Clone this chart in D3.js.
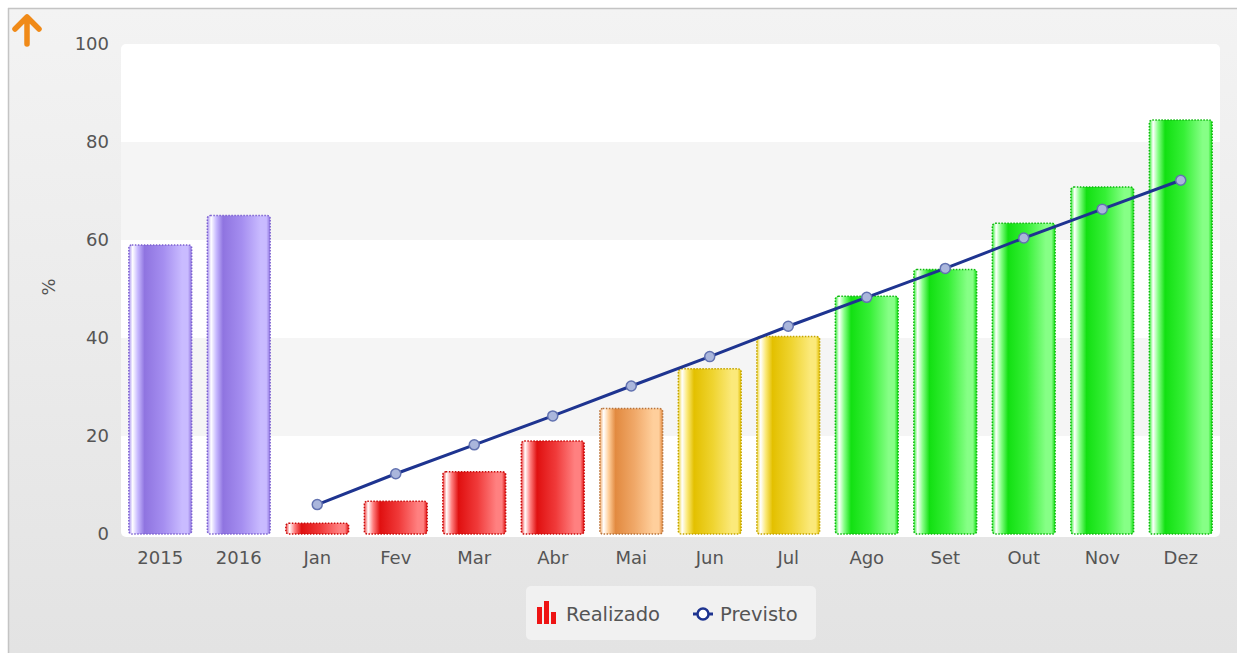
<!DOCTYPE html>
<html>
<head>
<meta charset="utf-8">
<script src="https://cdn.jsdelivr.net/npm/d3@7"></script>
<style>
  html, body { margin: 0; padding: 0; background: #fff; }
  svg { display: block; font-family: "DejaVu Sans", Verdana, sans-serif; }
</style>
</head>
<body>
<svg id="chart" width="1237" height="653"></svg>
<script>
// Categories (two yearly totals followed by the months)
const categories = ["2015", "2016", "Jan", "Fev", "Mar", "Abr", "Mai", "Jun", "Jul", "Ago", "Set", "Out", "Nov", "Dez"];
// Realizado (%)
const realizado = [59, 65, 2.2, 6.7, 12.7, 19, 25.6, 33.7, 40.3, 48.5, 54, 63.4, 70.8, 84.5];
// Bar colour group for each category
const colourGroup = ["purple", "purple", "red", "red", "red", "red", "orange", "yellow", "yellow", "green", "green", "green", "green", "green"];
// Previsto (%) for the months
const previstoMonths = ["Jan", "Fev", "Mar", "Abr", "Mai", "Jun", "Jul", "Ago", "Set", "Out", "Nov", "Dez"];
const previsto = [6, 12.3, 18.2, 24.1, 30.2, 36.2, 42.4, 48.3, 54.2, 60.4, 66.3, 72.2];
// Y axis ticks
const yTicks = [0, 20, 40, 60, 80, 100];

const palettes = {
  purple: { dark: "#8f74e0", mid: "#a58ef0", light: "#c9bbff", edge: "#7d62d0" },
  red:    { dark: "#e01010", mid: "#f03a3a", light: "#ff8080", edge: "#c80c0c" },
  orange: { dark: "#e28a40", mid: "#f0a868", light: "#ffcf9c", edge: "#b8733a" },
  yellow: { dark: "#e3c000", mid: "#efd430", light: "#fbe97a", edge: "#c3a400" },
  green:  { dark: "#12e012", mid: "#36f036", light: "#86ff86", edge: "#10b810" }
};

const textColour = "#555555";
const svg = d3.select("#chart");
const W = 1237, H = 653;
const defs = svg.append("defs");

// Panel background
const bg = defs.append("linearGradient").attr("id", "panelBg")
  .attr("x1", 0).attr("y1", 0).attr("x2", 0).attr("y2", 1);
bg.append("stop").attr("offset", "0%").attr("stop-color", "#f3f3f3");
bg.append("stop").attr("offset", "100%").attr("stop-color", "#e3e3e3");

svg.append("rect").attr("x", 0).attr("y", 0).attr("width", W).attr("height", H).attr("fill", "#ffffff");
svg.append("rect").attr("x", 8).attr("y", 8).attr("width", W - 8).attr("height", H - 8).attr("fill", "url(#panelBg)");
svg.append("line").attr("x1", 8).attr("y1", 8.5).attr("x2", W).attr("y2", 8.5).attr("stroke", "#c4c4c4").attr("stroke-width", 1.5);
svg.append("line").attr("x1", 8.5).attr("y1", 8).attr("x2", 8.5).attr("y2", H).attr("stroke", "#c4c4c4").attr("stroke-width", 1.5);

// Bar gradients
Object.entries(palettes).forEach(([key, p]) => {
  const g = defs.append("linearGradient").attr("id", "grad-" + key)
    .attr("x1", 0).attr("y1", 0).attr("x2", 1).attr("y2", 0);
  [[0, p.mid], [0.06, "#ffffff"], [0.14, p.light], [0.25, p.dark], [0.55, p.mid], [0.85, p.light], [0.94, p.light], [1, p.dark]]
    .forEach(([o, c]) => g.append("stop").attr("offset", (o * 100) + "%").attr("stop-color", c));
});

// Plot area
const plot = { left: 121, right: 1220, top: 44, bottom: 534 };

const x = d3.scaleBand().domain(categories).range([plot.left, plot.right]).paddingInner(0.2).paddingOuter(0.1);
const y = d3.scaleLinear().domain([0, 100]).range([plot.bottom, plot.top]);

svg.append("rect").attr("x", plot.left).attr("y", plot.top)
  .attr("width", plot.right - plot.left).attr("height", plot.bottom - plot.top + 3)
  .attr("rx", 5).attr("fill", "#ffffff");

// Alternating bands
d3.pairs(yTicks).forEach(([a, b], i) => {
  if (i % 2 === 1) {
    svg.append("rect").attr("x", plot.left).attr("y", y(b))
      .attr("width", plot.right - plot.left).attr("height", y(a) - y(b))
      .attr("fill", "#f5f5f5");
  }
});

// Y axis
const yAxis = svg.append("g").attr("transform", `translate(${plot.left},0)`)
  .call(d3.axisLeft(y).tickValues(yTicks).tickSize(0).tickPadding(12));
yAxis.select(".domain").remove();
yAxis.selectAll("text").attr("font-size", 18).attr("fill", textColour)
  .attr("font-family", "DejaVu Sans, Verdana, sans-serif");

// X axis
const xAxis = svg.append("g").attr("transform", `translate(0,${plot.bottom})`)
  .call(d3.axisBottom(x).tickSize(0).tickPadding(17));
xAxis.select(".domain").remove();
xAxis.selectAll("text").attr("font-size", 18).attr("fill", textColour)
  .attr("font-family", "DejaVu Sans, Verdana, sans-serif");

// Y title
svg.append("text").attr("transform", `translate(50,${(plot.top + plot.bottom) / 2 - 2}) rotate(-90)`)
  .attr("text-anchor", "middle").attr("dominant-baseline", "middle")
  .attr("font-size", 18).attr("fill", textColour).text("%");

// Bars
svg.append("g").selectAll("rect").data(categories).join("rect")
  .attr("x", d => x(d))
  .attr("y", (d, i) => y(realizado[i]))
  .attr("width", x.bandwidth())
  .attr("height", (d, i) => y(0) - y(realizado[i]))
  .attr("rx", 3)
  .attr("fill", (d, i) => `url(#grad-${colourGroup[i]})`)
  .attr("stroke", (d, i) => palettes[colourGroup[i]].edge)
  .attr("stroke-width", 1.5)
  .attr("stroke-dasharray", "1.5 1.5");

// Previsto line
const line = d3.line()
  .x((d, i) => x(previstoMonths[i]) + x.bandwidth() / 2)
  .y(d => y(d));
svg.append("path").datum(previsto).attr("d", line)
  .attr("fill", "none").attr("stroke", "#1e3490").attr("stroke-width", 3);
svg.append("g").selectAll("circle").data(previsto).join("circle")
  .attr("cx", (d, i) => x(previstoMonths[i]) + x.bandwidth() / 2)
  .attr("cy", d => y(d))
  .attr("r", 5)
  .attr("fill", "#aab6dc").attr("stroke", "#6272b0").attr("stroke-width", 1.5);

// Orange arrow, top left
svg.append("path")
  .attr("d", "M27,17 L39,29 M27,17 L15,29 M27,18 L27,44")
  .attr("stroke", "#f08a18").attr("stroke-width", 5.5).attr("fill", "none")
  .attr("stroke-linecap", "round").attr("stroke-linejoin", "round");

// Legend
const lg = svg.append("g");
lg.append("rect").attr("x", 526).attr("y", 586).attr("width", 290).attr("height", 54)
  .attr("rx", 5).attr("fill", "#f1f1f1");
// Realizado icon (small bars)
const iconBars = [[537, 607, 5, 17], [544, 601, 5, 23], [551, 612, 5, 12]];
iconBars.forEach(([bx, by, bw, bh]) => lg.append("rect").attr("x", bx).attr("y", by)
  .attr("width", bw).attr("height", bh).attr("fill", "#ee1414"));
lg.append("text").attr("x", 566).attr("y", 621).attr("font-size", 19.5).attr("fill", textColour).text("Realizado");
// Previsto icon
lg.append("line").attr("x1", 693).attr("y1", 614).attr("x2", 713).attr("y2", 614)
  .attr("stroke", "#1e3490").attr("stroke-width", 3);
lg.append("circle").attr("cx", 703).attr("cy", 614).attr("r", 5.5)
  .attr("fill", "#ffffff").attr("stroke", "#1e3490").attr("stroke-width", 2.5);
lg.append("text").attr("x", 720).attr("y", 621).attr("font-size", 19.5).attr("fill", textColour).text("Previsto");
</script>
</body>
</html>
